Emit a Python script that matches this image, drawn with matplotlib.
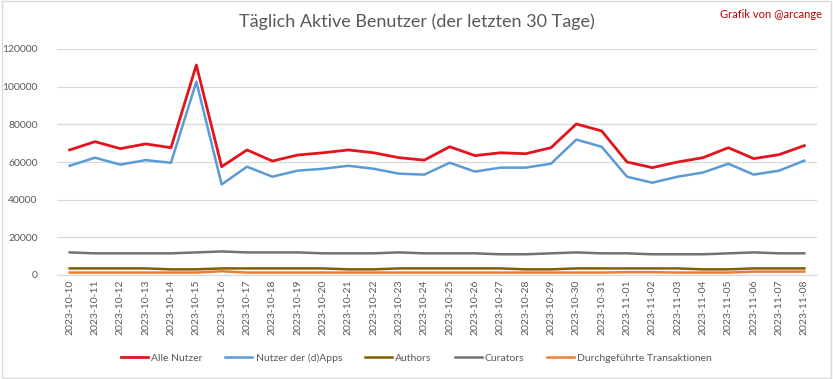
import matplotlib.pyplot as plt
from matplotlib.patches import Rectangle

plt.rcParams['font.family'] = ['Lato', 'DejaVu Sans']

dates = ['2023-10-10', '2023-10-11', '2023-10-12', '2023-10-13', '2023-10-14',
         '2023-10-15', '2023-10-16', '2023-10-17', '2023-10-18', '2023-10-19',
         '2023-10-20', '2023-10-21', '2023-10-22', '2023-10-23', '2023-10-24',
         '2023-10-25', '2023-10-26', '2023-10-27', '2023-10-28', '2023-10-29',
         '2023-10-30', '2023-10-31', '2023-11-01', '2023-11-02', '2023-11-03',
         '2023-11-04', '2023-11-05', '2023-11-06', '2023-11-07', '2023-11-08']

alle_nutzer = [66400, 70800, 67100, 69600, 67600, 111500, 57500, 66400, 60500, 63700,
               64900, 66400, 64900, 62300, 61000, 68100, 63400, 64900, 64400, 67600,
               80200, 76500, 60000, 57000, 60000, 62300, 67600, 61800, 63900, 68700]
dapps = [58000, 62300, 58600, 61000, 59600, 102600, 48100, 57500, 52200, 55400,
         56400, 58000, 56400, 53800, 53300, 59600, 54900, 57000, 57000, 59100,
         71900, 68100, 52200, 49000, 52200, 54400, 59100, 53300, 55400, 60700]
authors = [3500, 3500, 3500, 3500, 3000, 3000, 3500, 3500, 3500, 3500,
           3500, 3000, 3000, 3500, 3500, 3500, 3500, 3500, 3000, 3000,
           3500, 3500, 3500, 3500, 3500, 3000, 3000, 3500, 3500, 3500]
curators = [12000, 11500, 11500, 11500, 11500, 12000, 12500, 12000, 12000, 12000,
            11500, 11500, 11500, 12000, 11500, 11500, 11500, 11000, 11000, 11500,
            12000, 11500, 11500, 11000, 11000, 11000, 11500, 12000, 11500, 11500]
transaktionen = [1300, 1300, 1300, 1300, 1300, 1300, 2000, 1300, 1300, 1300,
                 1300, 1300, 1300, 1300, 1300, 1300, 1300, 1300, 1300, 1300,
                 1300, 1300, 1500, 1500, 1300, 1300, 1300, 1800, 1800, 1800]

series = [
    ('Alle Nutzer', alle_nutzer, '#E3141B', 2.0),
    ('Nutzer der (d)Apps', dapps, '#5B9BD5', 1.8),
    ('Authors', authors, '#7F6000', 1.8),
    ('Curators', curators, '#767171', 1.8),
    ('Durchgeführte Transaktionen', transaktionen, '#ED7D31', 1.8),
]

fig = plt.figure(figsize=(8.33, 3.79), dpi=100)
ax = fig.add_axes([57 / 833, 1 - 275 / 379, 760 / 833, 226 / 379])

x = list(range(len(dates)))
for label, vals, color, lw in series:
    ax.plot(x, vals, color=color, linewidth=lw, label=label)

ax.set_ylim(0, 120000)
ax.set_yticks(range(0, 120001, 20000))
ax.set_xlim(-0.5, len(dates) - 0.5)
ax.set_xticks(x)
ax.set_xticklabels(dates, rotation=90)
ax.tick_params(axis='both', length=0, labelsize=7.5, colors='#595959')
ax.tick_params(axis='y', pad=14)
ax.grid(axis='y', color='#D9D9D9', linewidth=0.9)
ax.set_axisbelow(True)
for side in ['top', 'right', 'left']:
    ax.spines[side].set_visible(False)
ax.spines['bottom'].set_color('#D9D9D9')

fig.text(0.5, 1 - 22 / 379, 'Täglich Aktive Benutzer (der letzten 30 Tage)',
         ha='center', va='center', fontsize=13, color='#595959')
fig.text(822 / 833, 1 - 14 / 379, 'Grafik von @arcange',
         ha='right', va='center', fontsize=8, color='#C00000')

fig.legend(loc='center', bbox_to_anchor=(0.5, 1 - 358 / 379), ncol=5,
           frameon=False, fontsize=7.5, labelcolor='#595959',
           handlelength=2.6, handletextpad=0.3, columnspacing=2.2)

fig.patches.append(Rectangle((0.002, 0.003), 0.996, 0.994, transform=fig.transFigure,
                             fill=False, edgecolor='#D9D9D9', linewidth=1))

fig.savefig('out.png', dpi=100)
